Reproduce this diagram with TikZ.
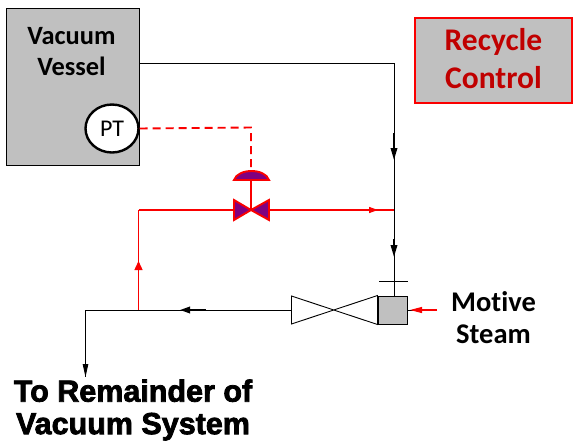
\documentclass[tikz,border=0pt]{standalone}
\usepackage{fontspec}
\setmainfont[Ligatures=NoCommon]{Carlito}
\newfontfamily\heavyfont[FakeBold=2.5]{Liberation Sans Bold}
\usetikzlibrary{arrows.meta,calc,shapes.geometric}
\definecolor{vgray}{RGB}{192,192,192}
\definecolor{vred}{RGB}{250,0,0}
\definecolor{vdred}{RGB}{192,0,0}
\definecolor{vpurple}{RGB}{128,0,128}
\tikzset{
 blk/.style={draw=black,line width=0.9pt},
 rd/.style={draw=vred,line width=1.9pt},
 rdthin/.style={draw=vred,line width=1.4pt},
 grp/.style={draw=black,fill=vgray,line width=1pt},
 lbl/.style={align=center,font=\fontsize{26.4}{31}\selectfont\bfseries,inner sep=0pt},
 vmark/.style={fill=vpurple,draw=vred,line width=1.9pt,line join=miter},
 blkhead/.style={-{Triangle[length=12pt,width=6.5pt]},draw=black,line width=1.8pt},
 redhead/.style={-{Triangle[length=9pt,width=8pt]},draw=vred,line width=1.4pt},
 redsmall/.style={-{Triangle[length=9pt,width=6pt]},draw=vred,line width=1.5pt},
}
\begin{document}
\begin{tikzpicture}[x=1pt,y=-1pt]
\useasboundingbox (0,0) rectangle (584,447);
\node[grp,minimum width=133pt,minimum height=157.5pt,inner sep=0pt] (vessel) at (73,87.2) {};
\node[lbl] (vtext) at (71.5,51.5) {Vacuum\\Vessel};
\node[draw=black,fill=white,line width=2.4pt,ellipse,minimum width=53pt,minimum height=48pt,inner sep=0pt,font=\fontsize{24}{26}\selectfont] (pt) at (112,128.5) {PT};
\node[draw=vred,fill=vgray,line width=2pt,minimum width=157pt,minimum height=85pt,inner sep=0pt] (rc) at (493.5,60.5) {};
\node[inner sep=0pt,align=center,text=vdred,font=\fontsize{31.5}{38}\selectfont\bfseries] (rctext) at (493.5,58.5) {Recycle\\Control};

\coordinate (tr) at (394,63);
\coordinate (vout) at (139.5,63);
\coordinate (rj) at (394,210);
\coordinate (lj) at (138.5,210);
\coordinate (bj) at (138.5,310);
\coordinate (cor) at (85.5,310);
\coordinate (endd) at (85.5,377);
\coordinate (vc) at (251,210);

% steam ejector
\node[grp,minimum width=29pt,minimum height=28pt,inner sep=0pt] (ejbox) at (392.5,310) {};
\coordinate (nl) at (291.5,296);
\coordinate (nb) at (291.5,324);
\draw[blk,fill=white,line join=miter] (nl) -- (ejbox.south west) -- (ejbox.north west) -- (nb) -- cycle;
\coordinate (tick1) at (379,281);
\coordinate (tick2) at (408,281);
\draw[blk] (tick1) -- (tick2);

% black lines
\draw[blk] (vout) -- (tr) -- (ejbox.north -| tr);
\draw[blkhead] (394,133) -- (394,160);
\draw[blkhead] (394,239) -- (394,257);
\draw[blk] ($(nl)!.5!(nb)$) -- (cor) -- (endd);
\draw[-{Triangle[length=13pt,width=5.5pt]},draw=black,line width=0.9pt] (cor) ++(0,50) -- (endd);
\draw[-{Triangle[length=10pt,width=6.5pt]},draw=black,line width=1.8pt] (206,310) -- (180,310);

% red lines
\draw[rdthin] (bj) -- (lj);
\draw[rd] (lj) -- (rj);
\draw[redhead] (bj) ++(0,-40) -- ++(0,-9);
\draw[redsmall] (366,210) -- (378,210);
\coordinate (st) at (437,310);
\draw[blk] (ejbox.east) -- (422,310);
\draw[rdthin] (st) -- (422,310);
\draw[-{Triangle[length=12pt,width=6pt]},draw=vred,line width=1pt] (423,310) -- (410,310);

% valve
\draw[vmark] (234,200) -- (234,220) -- (vc) -- cycle;
\draw[vmark] (269,200) -- (269,220) -- (vc) -- cycle;
\draw[rd] (vc) -- (251,180);
\draw[vmark] (234,180) .. controls (238,168) and (265,168) .. (269,180) -- cycle;
\draw[draw=vred,line width=1.9pt,dash pattern=on 8pt off 5pt] (pt.east) -- (251,127.5) -- (251,171);

\node[lbl,font=\fontsize{28.5}{32}\selectfont\bfseries] (ms) at (493.5,318) {Motive\\Steam};
\node[lbl,font=\fontsize{30.5}{32.5}\selectfont\heavyfont] (tr2) at (133,410) {To Remainder of\\Vacuum System};
\end{tikzpicture}
\end{document}
